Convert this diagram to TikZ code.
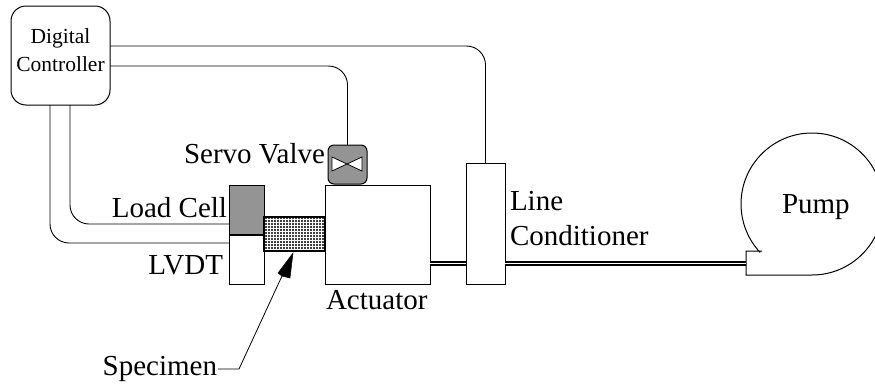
\documentclass[tikz,border=0pt]{standalone}
\usepackage{fontspec}
\setmainfont{Liberation Serif}
\usetikzlibrary{arrows.meta,calc}
\tikzset{
  x=1pt,y=-1pt,
  box/.style={draw=black,line width=1pt,minimum width=0pt,minimum height=0pt,inner sep=0pt,outer sep=0pt,anchor=north west},
  wire/.style={draw=black,line width=0.9pt,rounded corners=19pt},
  pipe/.style={draw=black,line width=1.3pt,double=white,double distance=1.6pt},
  lab/.style={inner sep=0pt,outer sep=0pt,font=\fontsize{29}{33}\selectfont},
  smalllab/.style={inner sep=0pt,outer sep=0pt,align=center,font=\fontsize{21.5}{28}\selectfont},
}
\begin{document}
\begin{tikzpicture}
\useasboundingbox (0,0) rectangle (875,383);
% boxes
\node[box,rounded corners=15pt,minimum width=99pt,minimum height=99pt] (ctrl) at (11,6) {};
\node[smalllab] (ctrltext) at (60.5,50) {Digital\\Controller};
\node[box,minimum width=105pt,minimum height=99pt] (act) at (325,185) {};
\node[box,minimum width=39pt,minimum height=121pt] (lc) at (466,163) {};
\node[box,fill=white,minimum width=35pt,minimum height=49pt] (lvdt) at (229,235) {};
\node[box,fill=black!42,minimum width=35pt,minimum height=50pt] (load) at (229,185) {};
\draw[black,line width=1.6pt] (load.south west) -- (load.south east);
\node[box,line width=1.3pt,minimum width=61pt,minimum height=34pt,fill=black!75,
  path picture={\draw[white,line width=0.7pt,step=3pt] (path picture bounding box.south west) grid (path picture bounding box.north east);}] (spec) at (264,217) {};
\node[box,rounded corners=6pt,fill=black!42,minimum width=39pt,minimum height=39pt] (valve) at (328,145) {};
\draw[black,fill=white,line width=0.8pt] (332,157) -- (362,171) -- (362,157) -- (332,171) -- cycle;
% wires
\coordinate (c1) at (110,46);
\coordinate (c2) at (110,66);
\coordinate (c3) at (70,105);
\coordinate (c4) at (50,105);
\coordinate (c5) at (229,224);
\coordinate (c6) at (229,243);
\draw[wire] (c1) -| (lc.north);
\draw[wire] (c2) -| (valve.north);
\draw[wire] (c3) |- (c5);
\draw[wire] (c4) |- (c6);
% pump
\coordinate (pumpin) at (746,263.5);
\coordinate (pumpa) at (762,251);
\draw[black,line width=1pt] (pumpa) -- (746,251) -- (746,275) -- (812,275) arc[start angle=-90,end angle=223,radius=71pt];
% pipes
\draw[pipe] (act.east |- pumpin) -- (lc.west |- pumpin);
\draw[pipe] (lc.east |- pumpin) -- (pumpin);
% specimen pointer
\coordinate (sp0) at (218,369);
\coordinate (sp1) at (239,369);
\coordinate (sptip) at (293,253);
\coordinate (spn) at (282,276);
\draw[black,line width=0.8pt] (sp0) -- (sp1) -- (spn);
\draw[black,fill=black,line width=0.5pt] (sptip) -- (278,273) -- (spn) -- (290,278) -- cycle;
% labels
\node[lab,anchor=base east] (sv) at (325,163) {Servo Valve};
\node[lab,anchor=base east] (lcell) at (227,217) {Load Cell};
\node[lab,anchor=base east] (lv) at (223,274) {LVDT};
\node[lab,anchor=base west] (at) at (326,309) {Actuator};
\node[lab,anchor=base west] (l1) at (510,210) {Line};
\node[lab,anchor=base west] (l2) at (510,245) {Conditioner};
\node[lab,anchor=base west] (pu) at (782,213) {Pump};
\node[lab,anchor=base east] (sn) at (217,375) {Specimen};
\end{tikzpicture}
\end{document}
